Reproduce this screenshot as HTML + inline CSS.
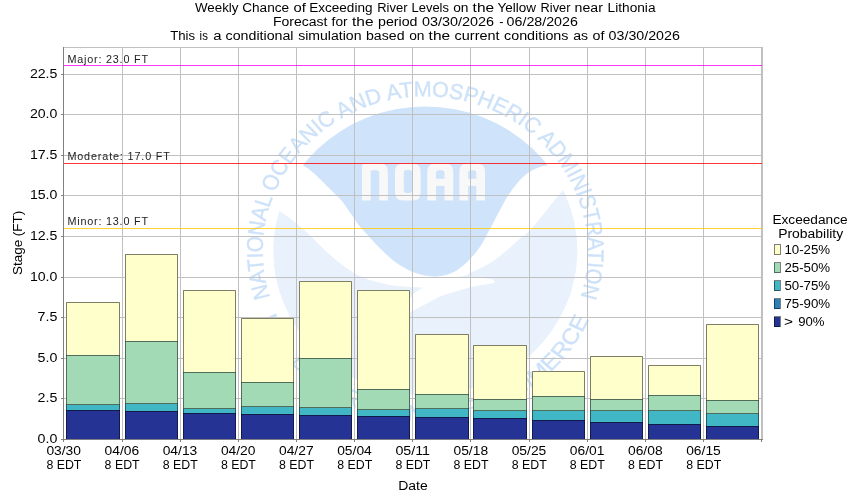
<!DOCTYPE html><html><head><meta charset="utf-8"><title>Chart</title>
<style>html,body{margin:0;padding:0;background:#fff;}svg{display:block;will-change:transform;}text{font-family:"Liberation Sans", sans-serif;}</style></head><body>
<svg width="850" height="500" viewBox="0 0 850 500">
<rect width="850" height="500" fill="#fff"/>
<text x="195.0" y="11.8" font-size="12.3" fill="#000" textLength="43.5" lengthAdjust="spacingAndGlyphs">Weekly</text>
<text x="242.2" y="11.8" font-size="12.3" fill="#000" textLength="46.9" lengthAdjust="spacingAndGlyphs">Chance</text>
<text x="293.6" y="11.8" font-size="12.3" fill="#000" textLength="12.3" lengthAdjust="spacingAndGlyphs">of</text>
<text x="309.2" y="11.8" font-size="12.3" fill="#000" textLength="63.3" lengthAdjust="spacingAndGlyphs">Exceeding</text>
<text x="377.2" y="11.8" font-size="12.3" fill="#000" textLength="30.3" lengthAdjust="spacingAndGlyphs">River</text>
<text x="411.6" y="11.8" font-size="12.3" fill="#000" textLength="37.3" lengthAdjust="spacingAndGlyphs">Levels</text>
<text x="453.2" y="11.8" font-size="12.3" fill="#000" textLength="15.3" lengthAdjust="spacingAndGlyphs">on</text>
<text x="472.6" y="11.8" font-size="12.3" fill="#000" textLength="21.5" lengthAdjust="spacingAndGlyphs">the</text>
<text x="497.6" y="11.8" font-size="12.3" fill="#000" textLength="38.5" lengthAdjust="spacingAndGlyphs">Yellow</text>
<text x="540.6" y="11.8" font-size="12.3" fill="#000" textLength="29.9" lengthAdjust="spacingAndGlyphs">River</text>
<text x="574.6" y="11.8" font-size="12.3" fill="#000" textLength="28.3" lengthAdjust="spacingAndGlyphs">near</text>
<text x="607.6" y="11.8" font-size="12.3" fill="#000" textLength="47.9" lengthAdjust="spacingAndGlyphs">Lithonia</text>
<text x="273.0" y="25.8" font-size="12.3" fill="#000" textLength="54.5" lengthAdjust="spacingAndGlyphs">Forecast</text>
<text x="331.6" y="25.8" font-size="12.3" fill="#000" textLength="15.9" lengthAdjust="spacingAndGlyphs">for</text>
<text x="352.0" y="25.8" font-size="12.3" fill="#000" textLength="21.5" lengthAdjust="spacingAndGlyphs">the</text>
<text x="378.0" y="25.8" font-size="12.3" fill="#000" textLength="39.5" lengthAdjust="spacingAndGlyphs">period</text>
<text x="422.0" y="25.8" font-size="12.3" fill="#000" textLength="72.1" lengthAdjust="spacingAndGlyphs">03/30/2026</text>
<text x="499.2" y="25.8" font-size="12.3" fill="#000" textLength="4.3" lengthAdjust="spacingAndGlyphs">-</text>
<text x="506.6" y="25.8" font-size="12.3" fill="#000" textLength="71.3" lengthAdjust="spacingAndGlyphs">06/28/2026</text>
<text x="170.2" y="39.7" font-size="12.3" fill="#000" textLength="24.9" lengthAdjust="spacingAndGlyphs">This</text>
<text x="199.6" y="39.7" font-size="12.3" fill="#000" textLength="8.3" lengthAdjust="spacingAndGlyphs">is</text>
<text x="213.2" y="39.7" font-size="12.3" fill="#000" textLength="8.3" lengthAdjust="spacingAndGlyphs">a</text>
<text x="225.6" y="39.7" font-size="12.3" fill="#000" textLength="67.9" lengthAdjust="spacingAndGlyphs">conditional</text>
<text x="298.2" y="39.7" font-size="12.3" fill="#000" textLength="63.3" lengthAdjust="spacingAndGlyphs">simulation</text>
<text x="366.0" y="39.7" font-size="12.3" fill="#000" textLength="38.5" lengthAdjust="spacingAndGlyphs">based</text>
<text x="409.2" y="39.7" font-size="12.3" fill="#000" textLength="15.3" lengthAdjust="spacingAndGlyphs">on</text>
<text x="428.6" y="39.7" font-size="12.3" fill="#000" textLength="21.5" lengthAdjust="spacingAndGlyphs">the</text>
<text x="454.6" y="39.7" font-size="12.3" fill="#000" textLength="44.9" lengthAdjust="spacingAndGlyphs">current</text>
<text x="504.0" y="39.7" font-size="12.3" fill="#000" textLength="64.5" lengthAdjust="spacingAndGlyphs">conditions</text>
<text x="573.2" y="39.7" font-size="12.3" fill="#000" textLength="14.9" lengthAdjust="spacingAndGlyphs">as</text>
<text x="592.6" y="39.7" font-size="12.3" fill="#000" textLength="11.9" lengthAdjust="spacingAndGlyphs">of</text>
<text x="608.6" y="39.7" font-size="12.3" fill="#000" textLength="71.3" lengthAdjust="spacingAndGlyphs">03/30/2026</text>
<g id="logo">
<defs><clipPath id="disc"><ellipse cx="425.3" cy="250.9" rx="152.0" ry="144.3"/></clipPath>
<path id="arcTop1" d="M-155.07 48.89 A162.6 162.6 0 0 1 6.24 -162.48"/><path id="arcTop2" d="M6.24 -162.48 A162.6 162.6 0 0 1 155.16 48.62"/><path id="arcBot" d="M-164.06 71.34 A178.9 178.9 0 0 0 163.56 72.48"/></defs>
<g clip-path="url(#disc)">
<path d="M268 203 C269.8 204.3 275.7 208.5 279.0 210.8 C282.3 213.1 285.1 214.9 288.0 217.0 C290.9 219.1 293.5 221.0 296.5 223.4 C299.5 225.8 302.9 228.7 306.0 231.5 C309.1 234.3 312.0 237.5 315.0 240.5 C318.0 243.5 321.0 246.7 324.0 249.5 C327.0 252.3 330.0 255.1 333.0 257.6 C336.0 260.2 339.0 262.6 342.0 264.8 C345.0 267.0 348.9 269.6 351.0 271.0 C353.1 272.4 351.4 271.9 354.6 273.4 C357.8 274.9 364.1 278.1 370.0 280.0 C375.9 281.9 383.3 283.8 390.0 285.0 C396.7 286.2 404.5 286.6 410.0 287.0 C415.5 287.4 420.8 287.5 423.0 287.6 C421.8 288.3 417.8 290.8 416.0 292.0 C414.2 293.2 413.4 294.0 412.4 295.0 C411.4 296.0 412.9 295.3 410.0 298.0 C407.1 300.7 400.3 306.3 395.0 311.0 C389.7 315.7 383.5 321.5 378.0 326.0 C372.5 330.5 366.3 335.0 362.0 338.0 C357.7 341.0 353.7 343.0 352.0 344.0 C354.3 343.0 360.5 340.8 366.0 338.0 C371.5 335.2 379.3 330.3 385.0 327.0 C390.7 323.7 395.8 320.4 400.0 318.0 C404.2 315.6 406.7 314.2 410.0 312.4 C413.3 310.6 416.7 308.7 420.0 307.0 C423.3 305.3 426.7 303.7 430.0 302.0 C433.3 300.3 436.3 298.2 440.0 296.6 C443.7 295.0 448.0 293.9 452.0 292.6 C456.0 291.3 460.0 290.1 464.0 289.0 C468.0 287.9 472.0 286.8 476.0 286.0 C480.0 285.2 484.8 284.6 488.0 284.0 C491.2 283.4 494.0 282.7 495.2 282.4 C494.6 281.9 494.1 279.9 491.6 279.2 C489.1 278.5 484.4 278.2 480.0 278.0 C475.6 277.8 469.7 277.9 465.0 277.8 C460.3 277.7 454.2 277.6 452.0 277.5 C453.0 277.4 456.0 277.3 458.0 277.0 C460.0 276.7 461.8 276.6 464.0 275.8 C466.2 275.0 469.2 273.2 471.0 272.4 C472.8 271.6 473.5 271.4 475.0 270.8 C476.5 270.2 478.3 269.3 480.0 268.5 C481.7 267.7 483.3 266.9 485.0 266.0 C486.7 265.1 488.3 264.0 490.0 263.0 C491.7 262.0 493.3 261.0 495.0 259.8 C496.7 258.6 498.3 257.3 500.0 256.0 C501.7 254.7 503.3 253.4 505.0 252.0 C506.7 250.6 508.3 249.0 510.0 247.5 C511.7 246.0 513.0 244.8 515.0 243.0 C517.0 241.2 519.6 239.0 522.0 237.0 C524.4 235.0 526.4 234.1 529.4 231.0 C532.4 227.9 536.6 222.7 540.0 218.5 C543.4 214.3 547.0 209.8 550.0 206.0 C553.0 202.2 555.7 198.8 558.0 196.0 C560.3 193.2 561.3 192.0 563.6 189.0 C565.9 186.0 570.6 179.8 572.0 178.0 L600 178 L600 430 L250 430 L250 203 Z" fill="#e8f1fc"/>
<path d="M560 160 C558.0 160.8 551.3 163.8 548.0 165.0 C544.7 166.2 543.1 165.8 540.0 167.0 C536.9 168.2 532.7 169.8 529.4 172.0 C526.1 174.2 522.9 177.0 520.0 180.0 C517.1 183.0 514.3 186.8 512.0 190.0 C509.7 193.2 507.8 196.0 506.0 199.0 C504.2 202.0 502.7 205.2 501.1 208.1 C499.5 211.0 498.0 213.6 496.6 216.2 C495.2 218.8 494.2 221.2 493.0 223.4 C491.8 225.7 490.6 227.4 489.4 229.7 C488.2 231.9 487.0 234.7 485.8 236.9 C484.6 239.2 483.7 240.8 482.2 243.2 C480.7 245.6 478.8 248.8 476.8 251.3 C474.9 253.9 472.6 256.2 470.5 258.5 C468.4 260.8 466.4 262.9 464.2 264.8 C461.9 266.8 459.7 268.6 457.0 270.2 C454.3 271.8 450.7 273.2 448.0 274.2 C445.3 275.2 443.1 275.6 440.8 276.0 C438.5 276.4 435.5 276.5 434.4 276.6 C432.6 276.4 427.2 276.0 423.6 275.2 C420.0 274.4 416.4 273.4 412.8 272.0 C409.2 270.6 405.3 268.6 402.0 266.6 C398.7 264.7 396.0 262.7 393.0 260.3 C390.0 257.9 387.0 255.0 384.0 252.2 C381.0 249.3 378.0 246.3 375.0 243.2 C372.0 240.0 368.7 236.3 366.0 233.3 C363.3 230.3 360.8 227.7 358.8 225.2 C356.9 222.7 355.9 220.9 354.3 218.5 C352.7 216.1 351.2 214.1 349.0 211.0 C346.8 207.9 344.2 203.7 341.0 200.0 C337.8 196.3 333.5 192.5 330.0 189.0 C326.5 185.5 323.3 182.2 320.0 179.0 C316.7 175.8 312.8 172.2 310.0 170.0 C307.2 167.8 306.3 167.8 303.0 165.6 C299.7 163.4 292.2 158.4 290.0 157.0 L290 90 L560 90 Z" fill="#cfe4fa"/>
</g>
<path d="M362.0 200.4V166.6Q362.0 163.6 365.0 163.6H379.9Q387.9 163.6 387.9 171.6V200.4H379.2V172.905Q379.2 170.125 376.42 170.125H371.7Q370.7 170.125 370.7 171.125V200.4Z M403.0 163.6H412.6Q420.6 163.6 420.6 171.6V192.4Q420.6 200.4 412.6 200.4H403.0Q395.0 200.4 395.0 192.4V171.6Q395.0 163.6 403.0 163.6Z M406.3 170.1H409.6Q412.1 170.1 412.1 172.6V190.5Q412.1 193.0 409.6 193.0H406.3Q403.8 193.0 403.8 190.5V172.6Q403.8 170.1 406.3 170.1Z M427.3 200.4V171.6Q427.3 163.6 435.3 163.6H445.2Q453.2 163.6 453.2 171.6V200.4H444.5V172.905Q444.5 170.125 441.72 170.125H438.78Q436.0 170.125 436.0 172.905V200.4Z M459.4 200.4V171.6Q459.4 163.6 467.4 163.6H477.0Q485.0 163.6 485.0 171.6V200.4H476.3V172.905Q476.3 170.125 473.52000000000004 170.125H470.87999999999994Q468.09999999999997 170.125 468.09999999999997 172.905V200.4Z" fill="#f8f8f9" fill-rule="evenodd"/><rect x="435.5" y="178.8" width="9.5" height="7.1" fill="#f8f8f9"/><rect x="467.59999999999997" y="178.8" width="9.2" height="7.1" fill="#f8f8f9"/>
<g transform="translate(425.3 250.9) scale(1 0.95)">
<text font-size="22.8" fill="#cde2f9" stroke="#cde2f9" stroke-width="0.35"><textPath href="#arcTop1" textLength="311.3" lengthAdjust="spacingAndGlyphs">NATIONAL OCEANIC AND ATM</textPath></text>
<text font-size="22.8" fill="#cde2f9" stroke="#cde2f9" stroke-width="0.35"><textPath href="#arcTop2" textLength="298.5" lengthAdjust="spacingAndGlyphs">OSPHERIC ADMINISTRATION</textPath></text>
<text font-size="22.8" fill="#cde2f9" stroke="#cde2f9" stroke-width="0.35"><textPath href="#arcBot" textLength="414.0" lengthAdjust="spacingAndGlyphs">U.S. DEPARTMENT OF COMMERCE</textPath></text>
</g>
</g>
<path d="M122.5 48V439 M180.5 48V439 M238.5 48V439 M296.5 48V439 M354.5 48V439 M412.5 48V439 M470.5 48V439 M529.5 48V439 M587.5 48V439 M645.5 48V439 M703.5 48V439 M64 74.5H762 M64 114.5H762 M64 155.5H762 M64 195.5H762 M64 236.5H762 M64 277.5H762 M64 317.5H762 M64 358.5H762 M64 398.5H762" stroke="#c0c0c0" stroke-width="1" fill="none" shape-rendering="crispEdges"/>
<path d="M63 47.5H763 M761.5 47V440 M762.5 47V440" stroke="#c0c0c0" stroke-width="1" fill="none" shape-rendering="crispEdges"/>
<text x="67.4" y="62.8" font-size="10.8" fill="#222" textLength="80.6" lengthAdjust="spacing">Major: 23.0 FT</text>
<text x="67.4" y="160.1" font-size="10.8" fill="#222" textLength="102.5" lengthAdjust="spacing">Moderate: 17.0 FT</text>
<text x="67.4" y="225.1" font-size="10.8" fill="#222" textLength="80.6" lengthAdjust="spacing">Minor: 13.0 FT</text>
<path d="M64 65.5H762" stroke="#ff00ff" stroke-opacity="0.8" stroke-width="1" shape-rendering="crispEdges"/>
<path d="M64 163.5H762" stroke="#ff0000" stroke-opacity="0.8" stroke-width="1" shape-rendering="crispEdges"/>
<path d="M64 228.5H762" stroke="#ffc800" stroke-opacity="0.8" stroke-width="1" shape-rendering="crispEdges"/>
<rect x="66" y="302" width="54" height="53" fill="#ffffcc"/>
<rect x="66" y="355" width="54" height="50" fill="#a1dab4"/>
<rect x="66" y="405" width="54" height="5" fill="#41b6c4"/>
<rect x="66" y="410" width="54" height="30" fill="#253494"/>
<path d="M66.5 302.5H119.5V439.5H66.5Z M66.5 355.5H119.5 M66.5 404.5H119.5 M66.5 410.5H119.5" fill="none" stroke="rgba(0,0,0,0.5)" stroke-width="1"/>
<rect x="125" y="254" width="53" height="87" fill="#ffffcc"/>
<rect x="125" y="341" width="53" height="63" fill="#a1dab4"/>
<rect x="125" y="404" width="53" height="7" fill="#41b6c4"/>
<rect x="125" y="411" width="53" height="29" fill="#253494"/>
<path d="M125.5 254.5H177.5V439.5H125.5Z M125.5 341.5H177.5 M125.5 403.5H177.5 M125.5 411.5H177.5" fill="none" stroke="rgba(0,0,0,0.5)" stroke-width="1"/>
<rect x="183" y="290" width="53" height="82" fill="#ffffcc"/>
<rect x="183" y="372" width="53" height="37" fill="#a1dab4"/>
<rect x="183" y="409" width="53" height="4" fill="#41b6c4"/>
<rect x="183" y="413" width="53" height="27" fill="#253494"/>
<path d="M183.5 290.5H235.5V439.5H183.5Z M183.5 372.5H235.5 M183.5 408.5H235.5 M183.5 413.5H235.5" fill="none" stroke="rgba(0,0,0,0.5)" stroke-width="1"/>
<rect x="241" y="318" width="53" height="64" fill="#ffffcc"/>
<rect x="241" y="382" width="53" height="25" fill="#a1dab4"/>
<rect x="241" y="407" width="53" height="7" fill="#41b6c4"/>
<rect x="241" y="414" width="53" height="26" fill="#253494"/>
<path d="M241.5 318.5H293.5V439.5H241.5Z M241.5 382.5H293.5 M241.5 406.5H293.5 M241.5 414.5H293.5" fill="none" stroke="rgba(0,0,0,0.5)" stroke-width="1"/>
<rect x="299" y="281" width="53" height="77" fill="#ffffcc"/>
<rect x="299" y="358" width="53" height="50" fill="#a1dab4"/>
<rect x="299" y="408" width="53" height="7" fill="#41b6c4"/>
<rect x="299" y="415" width="53" height="25" fill="#253494"/>
<path d="M299.5 281.5H351.5V439.5H299.5Z M299.5 358.5H351.5 M299.5 407.5H351.5 M299.5 415.5H351.5" fill="none" stroke="rgba(0,0,0,0.5)" stroke-width="1"/>
<rect x="357" y="290" width="53" height="99" fill="#ffffcc"/>
<rect x="357" y="389" width="53" height="21" fill="#a1dab4"/>
<rect x="357" y="410" width="53" height="6" fill="#41b6c4"/>
<rect x="357" y="416" width="53" height="24" fill="#253494"/>
<path d="M357.5 290.5H409.5V439.5H357.5Z M357.5 389.5H409.5 M357.5 409.5H409.5 M357.5 416.5H409.5" fill="none" stroke="rgba(0,0,0,0.5)" stroke-width="1"/>
<rect x="415" y="334" width="54" height="60" fill="#ffffcc"/>
<rect x="415" y="394" width="54" height="15" fill="#a1dab4"/>
<rect x="415" y="409" width="54" height="8" fill="#41b6c4"/>
<rect x="415" y="417" width="54" height="23" fill="#253494"/>
<path d="M415.5 334.5H468.5V439.5H415.5Z M415.5 394.5H468.5 M415.5 408.5H468.5 M415.5 417.5H468.5" fill="none" stroke="rgba(0,0,0,0.5)" stroke-width="1"/>
<rect x="473" y="345" width="54" height="54" fill="#ffffcc"/>
<rect x="473" y="399" width="54" height="12" fill="#a1dab4"/>
<rect x="473" y="411" width="54" height="7" fill="#41b6c4"/>
<rect x="473" y="418" width="54" height="22" fill="#253494"/>
<path d="M473.5 345.5H526.5V439.5H473.5Z M473.5 399.5H526.5 M473.5 410.5H526.5 M473.5 418.5H526.5" fill="none" stroke="rgba(0,0,0,0.5)" stroke-width="1"/>
<rect x="532" y="371" width="53" height="25" fill="#ffffcc"/>
<rect x="532" y="396" width="53" height="15" fill="#a1dab4"/>
<rect x="532" y="411" width="53" height="9" fill="#41b6c4"/>
<rect x="532" y="420" width="53" height="20" fill="#253494"/>
<path d="M532.5 371.5H584.5V439.5H532.5Z M532.5 396.5H584.5 M532.5 410.5H584.5 M532.5 420.5H584.5" fill="none" stroke="rgba(0,0,0,0.5)" stroke-width="1"/>
<rect x="590" y="356" width="53" height="43" fill="#ffffcc"/>
<rect x="590" y="399" width="53" height="12" fill="#a1dab4"/>
<rect x="590" y="411" width="53" height="11" fill="#41b6c4"/>
<rect x="590" y="422" width="53" height="18" fill="#253494"/>
<path d="M590.5 356.5H642.5V439.5H590.5Z M590.5 399.5H642.5 M590.5 410.5H642.5 M590.5 422.5H642.5" fill="none" stroke="rgba(0,0,0,0.5)" stroke-width="1"/>
<rect x="648" y="365" width="53" height="30" fill="#ffffcc"/>
<rect x="648" y="395" width="53" height="16" fill="#a1dab4"/>
<rect x="648" y="411" width="53" height="13" fill="#41b6c4"/>
<rect x="648" y="424" width="53" height="16" fill="#253494"/>
<path d="M648.5 365.5H700.5V439.5H648.5Z M648.5 395.5H700.5 M648.5 410.5H700.5 M648.5 424.5H700.5" fill="none" stroke="rgba(0,0,0,0.5)" stroke-width="1"/>
<rect x="706" y="324" width="53" height="76" fill="#ffffcc"/>
<rect x="706" y="400" width="53" height="14" fill="#a1dab4"/>
<rect x="706" y="414" width="53" height="12" fill="#41b6c4"/>
<rect x="706" y="426" width="53" height="14" fill="#253494"/>
<path d="M706.5 324.5H758.5V439.5H706.5Z M706.5 400.5H758.5 M706.5 413.5H758.5 M706.5 426.5H758.5" fill="none" stroke="rgba(0,0,0,0.5)" stroke-width="1"/>
<path d="M63.5 47V440" stroke="#808080" stroke-width="1" shape-rendering="crispEdges"/>
<path d="M63 439.5H763" stroke="#808080" stroke-width="1" shape-rendering="crispEdges"/>
<path d="M61 74.5H63 M61 114.5H63 M61 155.5H63 M61 195.5H63 M61 236.5H63 M61 277.5H63 M61 317.5H63 M61 358.5H63 M61 398.5H63 M61 439.5H63 M63.5 440V442 M122.5 440V442 M180.5 440V442 M238.5 440V442 M296.5 440V442 M354.5 440V442 M412.5 440V442 M470.5 440V442 M529.5 440V442 M587.5 440V442 M645.5 440V442 M703.5 440V442 M761.5 440V442" stroke="#808080" stroke-width="1" shape-rendering="crispEdges"/>
<text x="57.4" y="78.2" font-size="12.3" text-anchor="end" fill="#000" textLength="27.5" lengthAdjust="spacingAndGlyphs">22.5</text>
<text x="57.4" y="118.2" font-size="12.3" text-anchor="end" fill="#000" textLength="27.5" lengthAdjust="spacingAndGlyphs">20.0</text>
<text x="57.4" y="159.2" font-size="12.3" text-anchor="end" fill="#000" textLength="27.5" lengthAdjust="spacingAndGlyphs">17.5</text>
<text x="57.4" y="199.2" font-size="12.3" text-anchor="end" fill="#000" textLength="27.5" lengthAdjust="spacingAndGlyphs">15.0</text>
<text x="57.4" y="240.2" font-size="12.3" text-anchor="end" fill="#000" textLength="27.5" lengthAdjust="spacingAndGlyphs">12.5</text>
<text x="57.4" y="281.2" font-size="12.3" text-anchor="end" fill="#000" textLength="27.5" lengthAdjust="spacingAndGlyphs">10.0</text>
<text x="57.4" y="321.2" font-size="12.3" text-anchor="end" fill="#000" textLength="19.8" lengthAdjust="spacingAndGlyphs">7.5</text>
<text x="57.4" y="362.2" font-size="12.3" text-anchor="end" fill="#000" textLength="19.8" lengthAdjust="spacingAndGlyphs">5.0</text>
<text x="57.4" y="402.2" font-size="12.3" text-anchor="end" fill="#000" textLength="19.8" lengthAdjust="spacingAndGlyphs">2.5</text>
<text x="57.4" y="443.2" font-size="12.3" text-anchor="end" fill="#000" textLength="19.8" lengthAdjust="spacingAndGlyphs">0.0</text>
<text x="63.7" y="454.9" font-size="12.3" text-anchor="middle" fill="#000" textLength="34.6" lengthAdjust="spacingAndGlyphs">03/30</text>
<text x="63.9" y="468.7" font-size="12.3" text-anchor="middle" fill="#000" textLength="35.0" lengthAdjust="spacingAndGlyphs">8 EDT</text>
<text x="121.9" y="454.9" font-size="12.3" text-anchor="middle" fill="#000" textLength="34.6" lengthAdjust="spacingAndGlyphs">04/06</text>
<text x="122.1" y="468.7" font-size="12.3" text-anchor="middle" fill="#000" textLength="35.0" lengthAdjust="spacingAndGlyphs">8 EDT</text>
<text x="180.0" y="454.9" font-size="12.3" text-anchor="middle" fill="#000" textLength="34.6" lengthAdjust="spacingAndGlyphs">04/13</text>
<text x="180.2" y="468.7" font-size="12.3" text-anchor="middle" fill="#000" textLength="35.0" lengthAdjust="spacingAndGlyphs">8 EDT</text>
<text x="238.2" y="454.9" font-size="12.3" text-anchor="middle" fill="#000" textLength="34.6" lengthAdjust="spacingAndGlyphs">04/20</text>
<text x="238.4" y="468.7" font-size="12.3" text-anchor="middle" fill="#000" textLength="35.0" lengthAdjust="spacingAndGlyphs">8 EDT</text>
<text x="296.3" y="454.9" font-size="12.3" text-anchor="middle" fill="#000" textLength="34.6" lengthAdjust="spacingAndGlyphs">04/27</text>
<text x="296.5" y="468.7" font-size="12.3" text-anchor="middle" fill="#000" textLength="35.0" lengthAdjust="spacingAndGlyphs">8 EDT</text>
<text x="354.5" y="454.9" font-size="12.3" text-anchor="middle" fill="#000" textLength="34.6" lengthAdjust="spacingAndGlyphs">05/04</text>
<text x="354.7" y="468.7" font-size="12.3" text-anchor="middle" fill="#000" textLength="35.0" lengthAdjust="spacingAndGlyphs">8 EDT</text>
<text x="412.7" y="454.9" font-size="12.3" text-anchor="middle" fill="#000" textLength="34.6" lengthAdjust="spacingAndGlyphs">05/11</text>
<text x="412.9" y="468.7" font-size="12.3" text-anchor="middle" fill="#000" textLength="35.0" lengthAdjust="spacingAndGlyphs">8 EDT</text>
<text x="470.8" y="454.9" font-size="12.3" text-anchor="middle" fill="#000" textLength="34.6" lengthAdjust="spacingAndGlyphs">05/18</text>
<text x="471.0" y="468.7" font-size="12.3" text-anchor="middle" fill="#000" textLength="35.0" lengthAdjust="spacingAndGlyphs">8 EDT</text>
<text x="529.0" y="454.9" font-size="12.3" text-anchor="middle" fill="#000" textLength="34.6" lengthAdjust="spacingAndGlyphs">05/25</text>
<text x="529.2" y="468.7" font-size="12.3" text-anchor="middle" fill="#000" textLength="35.0" lengthAdjust="spacingAndGlyphs">8 EDT</text>
<text x="587.1" y="454.9" font-size="12.3" text-anchor="middle" fill="#000" textLength="34.6" lengthAdjust="spacingAndGlyphs">06/01</text>
<text x="587.3" y="468.7" font-size="12.3" text-anchor="middle" fill="#000" textLength="35.0" lengthAdjust="spacingAndGlyphs">8 EDT</text>
<text x="645.3" y="454.9" font-size="12.3" text-anchor="middle" fill="#000" textLength="34.6" lengthAdjust="spacingAndGlyphs">06/08</text>
<text x="645.5" y="468.7" font-size="12.3" text-anchor="middle" fill="#000" textLength="35.0" lengthAdjust="spacingAndGlyphs">8 EDT</text>
<text x="703.5" y="454.9" font-size="12.3" text-anchor="middle" fill="#000" textLength="34.6" lengthAdjust="spacingAndGlyphs">06/15</text>
<text x="703.7" y="468.7" font-size="12.3" text-anchor="middle" fill="#000" textLength="35.0" lengthAdjust="spacingAndGlyphs">8 EDT</text>
<text x="412.95" y="489.8" font-size="12.3" text-anchor="middle" fill="#000" textLength="29.5" lengthAdjust="spacingAndGlyphs">Date</text>
<text transform="translate(21.6 242.9) rotate(-90)" font-size="12.3" text-anchor="middle" textLength="64.3" lengthAdjust="spacingAndGlyphs">Stage (FT)</text>
<text x="810" y="224" font-size="12.3" text-anchor="middle" fill="#000" textLength="75.2" lengthAdjust="spacingAndGlyphs">Exceedance</text>
<text x="810.7" y="237.7" font-size="12.3" text-anchor="middle" fill="#000" textLength="65.0" lengthAdjust="spacingAndGlyphs">Probability</text>
<rect x="774" y="245" width="6" height="10" fill="#ffffcc"/>
<rect x="774.5" y="244.5" width="6" height="10" fill="none" stroke="rgba(0,0,0,0.5)" stroke-width="1"/>
<text x="784.4" y="253.9" font-size="12.3" text-anchor="start" fill="#000" textLength="45.8" lengthAdjust="spacingAndGlyphs">10-25%</text>
<rect x="774" y="263" width="6" height="10" fill="#a1dab4"/>
<rect x="774.5" y="262.5" width="6" height="10" fill="none" stroke="rgba(0,0,0,0.5)" stroke-width="1"/>
<text x="784.4" y="271.9" font-size="12.3" text-anchor="start" fill="#000" textLength="45.8" lengthAdjust="spacingAndGlyphs">25-50%</text>
<rect x="774" y="281" width="6" height="10" fill="#41b6c4"/>
<rect x="774.5" y="280.5" width="6" height="10" fill="none" stroke="rgba(0,0,0,0.5)" stroke-width="1"/>
<text x="784.4" y="289.9" font-size="12.3" text-anchor="start" fill="#000" textLength="45.8" lengthAdjust="spacingAndGlyphs">50-75%</text>
<rect x="774" y="299" width="6" height="10" fill="#2c7fb8"/>
<rect x="774.5" y="298.5" width="6" height="10" fill="none" stroke="rgba(0,0,0,0.5)" stroke-width="1"/>
<text x="784.4" y="307.9" font-size="12.3" text-anchor="start" fill="#000" textLength="45.8" lengthAdjust="spacingAndGlyphs">75-90%</text>
<rect x="774" y="317" width="6" height="10" fill="#253494"/>
<rect x="774.5" y="316.5" width="6" height="10" fill="none" stroke="rgba(0,0,0,0.5)" stroke-width="1"/>
<text x="784.0" y="325.9" font-size="12.3" text-anchor="start" fill="#000" textLength="9.0" lengthAdjust="spacingAndGlyphs">&gt;</text>
<text x="798.2" y="325.9" font-size="12.3" text-anchor="start" fill="#000" textLength="26.3" lengthAdjust="spacingAndGlyphs">90%</text>
</svg></body></html>
